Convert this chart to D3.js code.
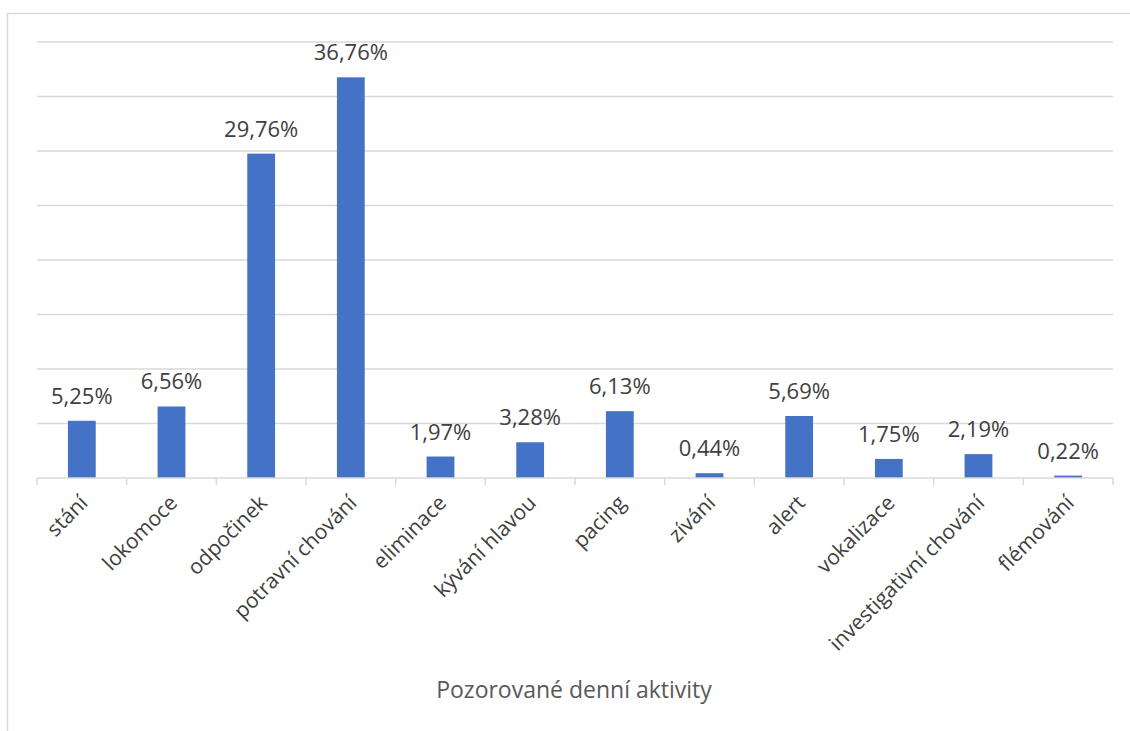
<!DOCTYPE html>
<html><head><meta charset="utf-8">
<script src="https://cdn.jsdelivr.net/npm/d3@7"></script>
<style>body{margin:0;background:#fff}svg{display:block}</style>
</head><body>
<svg id="c" width="1130" height="731"></svg>
<script>
const categories = ["stání","lokomoce","odpočinek","potravní chování","eliminace","kývání hlavou","pacing","zívání","alert","vokalizace","investigativní chování","flémování"];
const values = [5.25,6.56,29.76,36.76,1.97,3.28,6.13,0.44,5.69,1.75,2.19,0.22];
const valueLabels = ["5,25%","6,56%","29,76%","36,76%","1,97%","3,28%","6,13%","0,44%","5,69%","1,75%","2,19%","0,22%"];
const gridTicks = [5,10,15,20,25,30,35,40];
const axisTitle = "Pozorované denní aktivity";

const svg = d3.select("#c");
const font = "'Open Sans', 'Noto Sans', sans-serif";
svg.append("rect").attr("x",7.5).attr("y",13.5).attr("width",1140).attr("height",740)
  .attr("fill","none").attr("stroke","#d9d9d9").attr("stroke-width",1.5);

const L=37,R=1113,T=42,B=478;
const x = d3.scaleBand().domain(categories).range([L,R]).paddingInner(0.69).paddingOuter(0.345);
const xb = d3.scaleBand().domain(categories).range([L,R]);
const y = d3.scaleLinear().domain([0,40]).range([B,T]);

svg.append("g").selectAll("line").data(gridTicks).join("line")
  .attr("x1",L).attr("x2",R).attr("y1",d=>y(d)).attr("y2",d=>y(d))
  .attr("stroke","#d9d9d9").attr("stroke-width",1.5);

svg.append("g").selectAll("rect").data(values).join("rect")
  .attr("x",(d,i)=>x(categories[i])).attr("width",x.bandwidth())
  .attr("y",d=>y(d)).attr("height",d=>B-y(d)).attr("fill","#4472c4");

// axis
const ax = svg.append("g");
ax.append("line").attr("x1",L).attr("x2",R).attr("y1",B).attr("y2",B).attr("stroke","#d9d9d9").attr("stroke-width",1.5);
const bounds = categories.map(c=>xb(c)).concat([R]);
ax.selectAll("line.t").data(bounds).join("line").attr("class","t")
  .attr("x1",d=>d).attr("x2",d=>d).attr("y1",B).attr("y2",B+7).attr("stroke","#d9d9d9").attr("stroke-width",1.5);

svg.append("g").selectAll("text").data(categories).join("text")
  .attr("transform",d=>`translate(${xb(d)+xb.bandwidth()/2+2},${B+21}) rotate(-45)`)
  .attr("text-anchor","end").attr("dy","0.35em")
  .attr("font-family",font).attr("font-size",21).attr("fill","#404040").text(d=>d);

svg.append("g").selectAll("text").data(values).join("text")
  .attr("x",(d,i)=>xb(categories[i])+xb.bandwidth()/2).attr("y",d=>y(d)-17)
  .attr("text-anchor","middle").attr("font-family",font).attr("font-size",22).attr("fill","#404040")
  .text((d,i)=>valueLabels[i]);

svg.append("text").attr("x",574).attr("y",698).attr("text-anchor","middle")
  .attr("font-family",font).attr("font-size",23).attr("fill","#595959").text(axisTitle);
</script>
</body></html>
